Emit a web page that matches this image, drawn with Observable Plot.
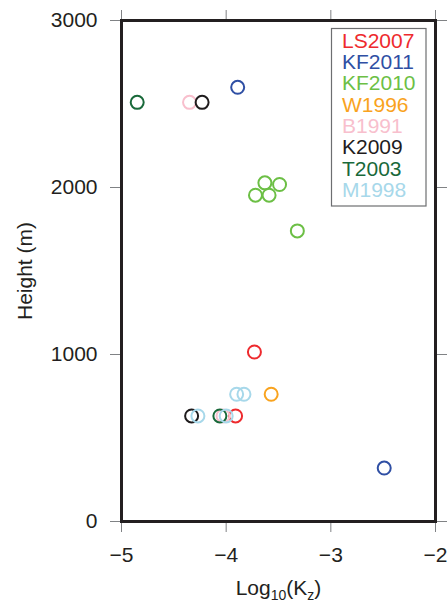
<!DOCTYPE html>
<html>
<head>
<meta charset="utf-8">
<script src="https://cdn.jsdelivr.net/npm/d3@7"></script>
<script src="https://cdn.jsdelivr.net/npm/@observablehq/plot@0.6"></script>
<style>
  html, body { margin: 0; padding: 0; background: #fff; }
  #chart svg { display: block; }
</style>
</head>
<body>
<div id="chart"></div>
<script>
// ---- data ----
const studies = ["LS2007", "KF2011", "KF2010", "W1996", "B1991", "K2009", "T2003", "M1998"];
const colors  = ["#ee2a2e", "#2f4fa4", "#6cbf45", "#f9a31e", "#f8bfcd", "#1f1c1d", "#19693a", "#a7d8ea"];
const logKz = [
  [-3.73, -3.91],
  [-3.89, -2.49],
  [-3.63, -3.49, -3.72, -3.59, -3.32],
  [-3.57],
  [-4.35, -4.03],
  [-4.23, -4.33],
  [-4.85, -4.06],
  [-3.90, -3.83, -4.27, -4.00]
];
const heights = [
  [1015, 632],
  [2600, 320],
  [2028, 2018, 1954, 1954, 1740],
  [762],
  [2510, 632],
  [2510, 632],
  [2510, 632],
  [762, 762, 632, 632]
];
const xTicks = [-5, -4, -3, -2];
const yTicks = [0, 1000, 2000, 3000];

// ---- table ----
const points = studies.flatMap((s, i) => logKz[i].map((k, j) => ({study: s, kz: k, h: heights[i][j]})));

const ink = "#231f20";
const font = "'Liberation Sans', Arial, Helvetica, sans-serif";
const fmtX = d => (d < 0 ? "\u2212" + Math.abs(d) : String(d));

const legendBox = () => {
  const r = document.createElementNS("http://www.w3.org/2000/svg", "rect");
  r.setAttribute("x", 331.5); r.setAttribute("y", 28.5);
  r.setAttribute("width", 94.5); r.setAttribute("height", 177.5);
  r.setAttribute("fill", "white"); r.setAttribute("stroke", "#6d6e71"); r.setAttribute("stroke-width", 1.2);
  return r;
};

const chart = Plot.plot({
  width: 448,
  height: 600,
  marginLeft: 121,
  marginRight: 13,
  marginTop: 20,
  marginBottom: 79,
  style: {fontFamily: font, background: "white", overflow: "visible"},
  x: {domain: [-5, -2]},
  y: {domain: [0, 3000]},
  color: {domain: studies, range: colors},
  marks: [
    Plot.axisX({anchor: "bottom", ticks: xTicks, tickSize: 11, tickPadding: 15, fontSize: 21, stroke: "#808285", fill: ink,
      tickFormat: fmtX, label: "Log10(Kz)", labelAnchor: "center", labelArrow: "none", labelOffset: 73}),
    Plot.axisX({anchor: "top", ticks: xTicks, tickSize: 11, tickFormat: () => "", label: null, stroke: "#808285"}),
    Plot.axisY({anchor: "left", ticks: yTicks, tickSize: 11, tickPadding: 13, fontSize: 21, stroke: "#808285", fill: ink,
      tickFormat: d => String(d), label: "Height (m)", labelAnchor: "center", labelArrow: "none", labelOffset: 104}),
    Plot.axisY({anchor: "right", ticks: yTicks, tickSize: 11, tickFormat: () => "", label: null, stroke: "#808285"}),
    Plot.dot(points, {x: "kz", y: "h", stroke: "study", r: 6.5, strokeWidth: 2, fill: "none"}),
    Plot.frame({stroke: ink, strokeWidth: 3}),
    legendBox,
    ...studies.map((s, i) => Plot.text([s], {
      text: d => d, frameAnchor: "top-left", dx: 220.5, dy: 20.6 + i * 21.3,
      textAnchor: "start", lineAnchor: "middle", fill: colors[i], fontSize: 21
    }))
  ]
});

// subscripts in the x-axis label
const lab = d3.select(chart).select('g[aria-label="x-axis label"] text');
if (!lab.empty()) {
  lab.text(null);
  lab.append("tspan").text("Log");
  lab.append("tspan").attr("font-size", 14).attr("dy", 5).text("10");
  lab.append("tspan").attr("dy", -5).text("(K");
  lab.append("tspan").attr("font-size", 14).attr("dy", 5).text("z");
  lab.append("tspan").attr("dy", -5).text(")");
}

document.getElementById("chart").appendChild(chart);
</script>
</body>
</html>
